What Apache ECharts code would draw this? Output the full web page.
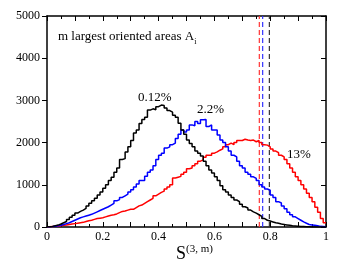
<!DOCTYPE html>
<html><head><meta charset="utf-8">
<script src="https://cdn.jsdelivr.net/npm/echarts@6/dist/echarts.min.js"></script>
<style>html,body{margin:0;padding:0;background:#fff}#c{width:358px;height:277px}</style>
</head><body><div id="c"></div>
<script>
const binStart = Array.from({length: 100}, (_, i) => +(i * 0.01).toFixed(2));
const black012 = [5,15,30,45,70,100,130,180,230,280,
330,370,400,440,500,560,620,680,760,830,
920,1000,1100,1180,1300,1400,1600,1620,1780,1900,
2050,2230,2300,2450,2550,2600,2770,2800,2780,2850,
2890,2880,2820,2760,2720,2650,2600,2460,2300,2200,
2060,1980,1900,1800,1750,1680,1560,1450,1350,1280,
1190,1100,980,880,830,760,700,640,600,540,
480,450,400,360,330,290,250,200,160,140,
120,100,90,70,60,50,40,30,25,20,
10,10,5,5,0,0,0,0,0,0];
const blue22 = [5,10,20,30,40,60,80,100,130,160,
190,220,240,260,280,300,330,360,390,420,
450,480,520,560,620,650,700,740,780,830,
880,950,1020,1100,1100,1200,1300,1350,1450,1600,
1700,1750,1870,1900,1950,1990,2100,2200,2300,2250,
2300,2420,2400,2500,2450,2540,2550,2380,2420,2300,
2300,2180,2060,2000,1900,1800,1700,1660,1560,1450,
1400,1300,1250,1190,1150,1100,1000,950,900,870,
760,700,600,570,500,430,350,290,240,200,
160,120,90,60,50,40,30,15,10,5];
const red13 = [5,10,15,20,30,40,50,60,70,80,
90,100,110,130,150,160,180,200,210,220,
240,260,280,290,310,340,370,380,400,420,
420,460,500,520,560,600,640,680,740,780,
820,850,900,950,1000,1160,1180,1200,1250,1300,
1380,1400,1450,1500,1560,1590,1650,1700,1700,1750,
1780,1820,1850,1900,1950,1990,1950,2000,2050,2050,
2080,2060,2050,2060,2020,2050,2000,1950,1940,1900,
1850,1800,1760,1700,1660,1600,1500,1400,1300,1190,
1100,1000,900,800,700,600,470,350,200,100];
const dashedX = [0.761, 0.773, 0.797];
const dashedColors = ['#ff3333', '#3333ff', '#333333'];
const yTicks = [0, 1000, 2000, 3000, 4000, 5000];
const xLabels = ['0', '0.2', '0.4', '0.6', '0.8', '1'];
const curveLabels = ['0.12%', '2.2%', '13%'];

function hist(vals) {
  const d = binStart.map((x, i) => [x, vals[i]]);
  d.push([1, vals[vals.length - 1]]);
  return d;
}
const font = 'Liberation Serif';
const chart = echarts.init(document.getElementById('c'));
const axisCommon = {
  type: 'value', min: 0, max: 1, interval: 0.1,
  axisLine: {onZero: false, lineStyle: {color: '#000', width: 1.5}},
  splitLine: {show: false},
};
chart.setOption({
  animation: false,
  grid: {left: 47, top: 16, width: 279, height: 211},
  xAxis: [
    Object.assign({}, axisCommon, {
      position: 'bottom',
      axisTick: {inside: true, length: 5, lineStyle: {color: '#000'}},
      minorTick: {show: true, splitNumber: 2, length: 3, lineStyle: {color: '#000'}},
      axisLabel: {color: '#000', fontFamily: font, fontSize: 12, margin: 4,
        formatter: v => { const k = Math.round(v * 10); return k % 2 === 0 ? xLabels[k / 2] : ''; }}
    }),
    Object.assign({}, axisCommon, {
      position: 'top',
      axisTick: {inside: true, length: 5, lineStyle: {color: '#000'}},
      minorTick: {show: true, splitNumber: 2, length: 3, lineStyle: {color: '#000'}},
      axisLabel: {show: false}
    })
  ],
  yAxis: [
    {type: 'value', min: 0, max: 5000, interval: 1000, position: 'left',
      axisLine: {show: true, onZero: false, lineStyle: {color: '#000', width: 1.5}},
      axisTick: {show: true, inside: false, length: 5, lineStyle: {color: '#000'}},
      splitLine: {show: false},
      axisLabel: {color: '#000', fontFamily: font, fontSize: 12, margin: 7,
        formatter: v => String(yTicks[Math.round(v / 1000)])}},
    {type: 'value', min: 0, max: 5000, interval: 1000, position: 'right',
      axisLine: {show: true, onZero: false, lineStyle: {color: '#000', width: 1.5}},
      axisTick: {show: true, inside: true, length: 5, lineStyle: {color: '#000'}},
      splitLine: {show: false}, axisLabel: {show: false}}
  ],
  series: [
    {type: 'line', step: 'end', data: hist(red13), symbol: 'none', lineStyle: {color: '#ff0000', width: 1.5}, z: 3},
    {type: 'line', step: 'end', data: hist(blue22), symbol: 'none', lineStyle: {color: '#0000ff', width: 1.5}, z: 4},
    {type: 'line', step: 'end', data: hist(black012), symbol: 'none', lineStyle: {color: '#000000', width: 1.5}, z: 5},
  ].concat(dashedX.map((x, i) => ({
    type: 'line', data: [[x, 0], [x, 5000]], symbol: 'none',
    lineStyle: {color: dashedColors[i], width: 1.2, type: [5, 3]}, z: 2
  }))),
  graphic: [
    {type: 'text', left: 58, top: 30, style: {
      text: '{a|m largest oriented areas A}{s|i}',
      rich: {a: {fontFamily: font, fontSize: 13, fill: '#000'},
             s: {fontFamily: font, fontSize: 8, fill: '#000', padding: [10, 0, 0, 0]}}}},
    {type: 'text', left: 138, top: 91, style: {text: curveLabels[0], fontFamily: font, fontSize: 13, fill: '#000'}},
    {type: 'text', left: 197, top: 103, style: {text: curveLabels[1], fontFamily: font, fontSize: 13, fill: '#000'}},
    {type: 'text', left: 287, top: 148, style: {text: curveLabels[2], fontFamily: font, fontSize: 13, fill: '#000'}},
    {type: 'text', left: 176, top: 244, style: {
      text: '{a|S}{s|(3, m)}',
      rich: {a: {fontFamily: font, fontSize: 18, fill: '#000'},
             s: {fontFamily: font, fontSize: 11, fill: '#000', padding: [0, 0, 10, 0]}}}}
  ]
});
</script></body></html>
